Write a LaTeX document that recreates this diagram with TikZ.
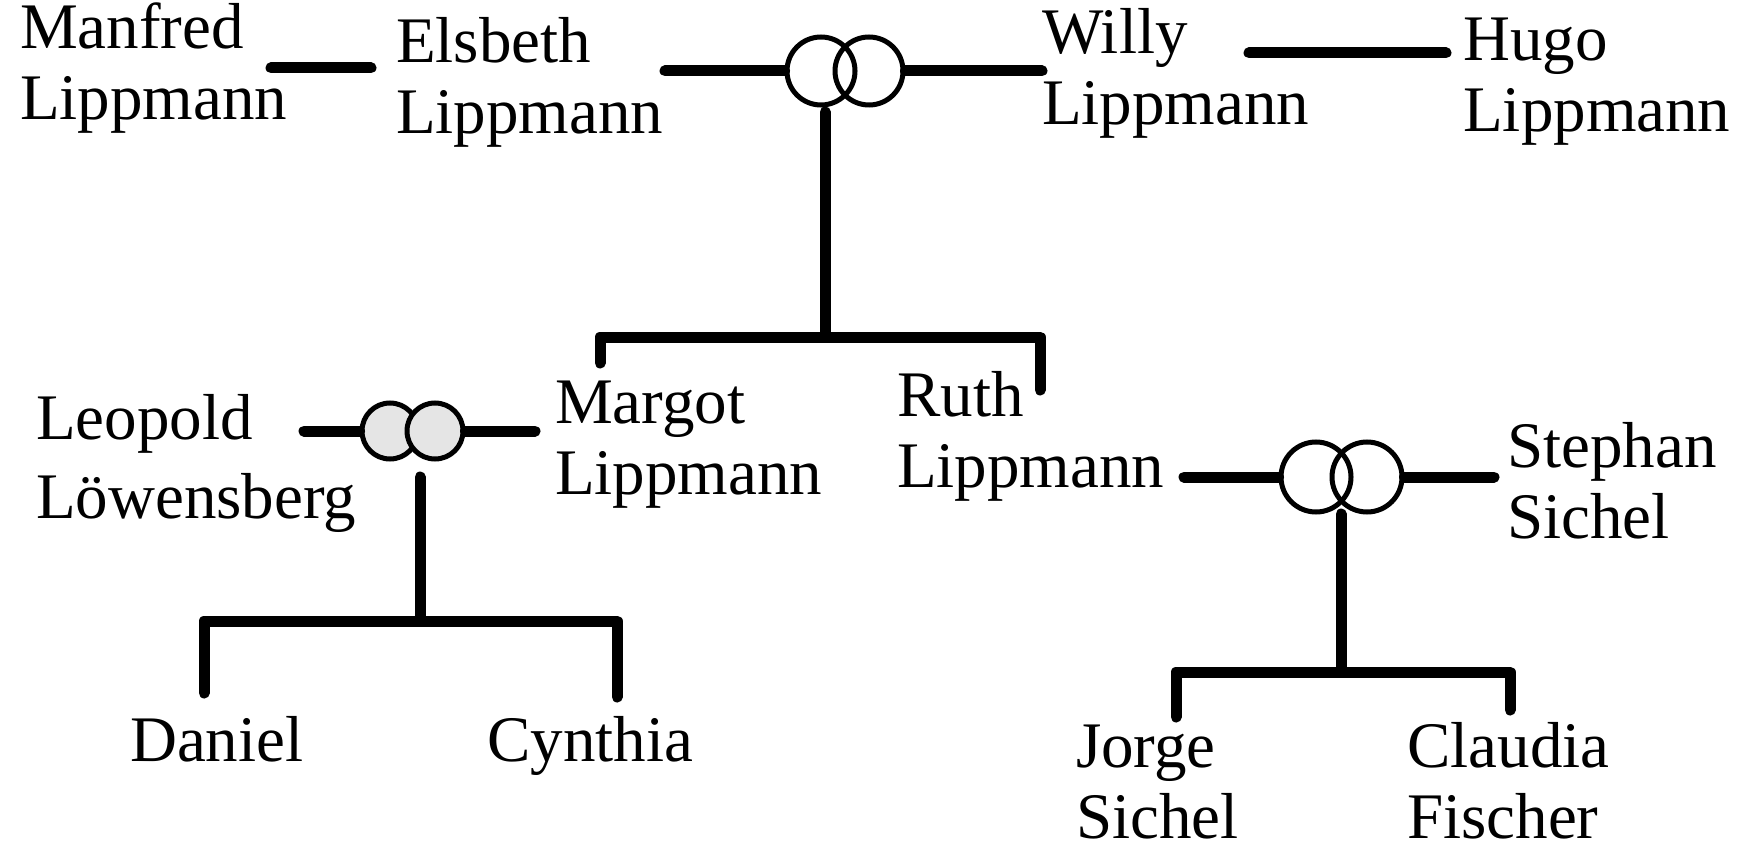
\documentclass[tikz,border=0pt]{standalone}
\usepackage{fontspec}
\setmainfont{Liberation Serif}
\begin{document}
\begin{tikzpicture}[x=1pt,y=-1pt,
  person/.style={inner sep=0pt, anchor=base west, align=left, font=\fontsize{65}{71}\selectfont},
  ring/.style={circle, draw, line width=5pt, minimum size=68pt, inner sep=0pt},
  greyring/.style={ring, fill=black!10, minimum size=56pt},
  link/.style={line width=11pt, line cap=round, line join=round}]
\useasboundingbox (0,0) rectangle (1748,850);
% people (anchored at the baseline of the last line)
\node[person] (manfred) at (20,120) {Manfred\\Lippmann};
\node[person] (elsbeth) at (396,134) {Elsbeth\\Lippmann};
\node[person] (willy) at (1042,125) {Willy\\Lippmann};
\node[person] (hugo) at (1463,132) {Hugo\\Lippmann};
\node[person] (leopold) at (36,518) {Leopold\\[8pt]Löwensberg};
\node[person] (margot) at (555,494) {Margot\\Lippmann};
\node[person] (ruth) at (897,487) {Ruth\\Lippmann};
\node[person] (stephan) at (1507,538) {Stephan\\Sichel};
\node[person] (daniel) at (130,761) {Daniel};
\node[person] (cynthia) at (487,761) {Cynthia};
\node[person] (jorge) at (1076,838) {Jorge\\Sichel};
\node[person] (claudia) at (1407,838) {Claudia\\Fischer};
% rings
\node[ring] (r1a) at (821,71) {};
\node[ring] (r1b) at (869,71) {};
\node[greyring] (r2a) at (390,431) {};
\node[greyring] (r2b) at (435,431) {};
\node[ring, minimum size=70pt] (r3a) at (1316,477) {};
\node[ring, minimum size=70pt] (r3b) at (1367,477) {};
% coordinates
\coordinate (m1) at (271,68);
\coordinate (m2) at (371,68);
\coordinate (e1) at (665,71);
\coordinate (w1) at (1042,71);
\coordinate (h1) at (1249,53);
\coordinate (h2) at (1446,53);
\coordinate (t1top) at (825,112);
\coordinate (t1) at (825,337);
\coordinate (t1l) at (600,337);
\coordinate (t1r) at (1040,337);
\coordinate (dm) at (600,363);
\coordinate (dr) at (1040,390);
\coordinate (l1) at (304,431);
\coordinate (l2) at (535,431);
\coordinate (t2top) at (420,477);
\coordinate (t2) at (420,621);
\coordinate (t2l) at (204,621);
\coordinate (t2r) at (617,621);
\coordinate (dd) at (204,693);
\coordinate (dc) at (617,697);
\coordinate (s1) at (1184,477);
\coordinate (s2) at (1494,477);
\coordinate (t3top) at (1341,514);
\coordinate (t3) at (1341,672);
\coordinate (t3l) at (1176,672);
\coordinate (t3r) at (1510,672);
\coordinate (dj) at (1176,717);
\coordinate (dk) at (1510,710);
% connectors
\draw[link] (m1) -- (m2);
\draw[link] (e1) -- (r1a.west);
\draw[link] (r1b.east) -- (w1);
\draw[link] (h1) -- (h2);
\draw[link] (t1top) -- (t1);
\draw[link] (dm) -- (t1l) -- (t1r) -- (dr);
\draw[link] (l1) -- (r2a.west);
\draw[link] (r2b.east) -- (l2);
\draw[link] (t2top) -- (t2);
\draw[link] (dd) -- (t2l) -- (t2r) -- (dc);
\draw[link] (s1) -- (r3a.west);
\draw[link] (r3b.east) -- (s2);
\draw[link] (t3top) -- (t3);
\draw[link] (dj) -- (t3l) -- (t3r) -- (dk);
\end{tikzpicture}
\end{document}
